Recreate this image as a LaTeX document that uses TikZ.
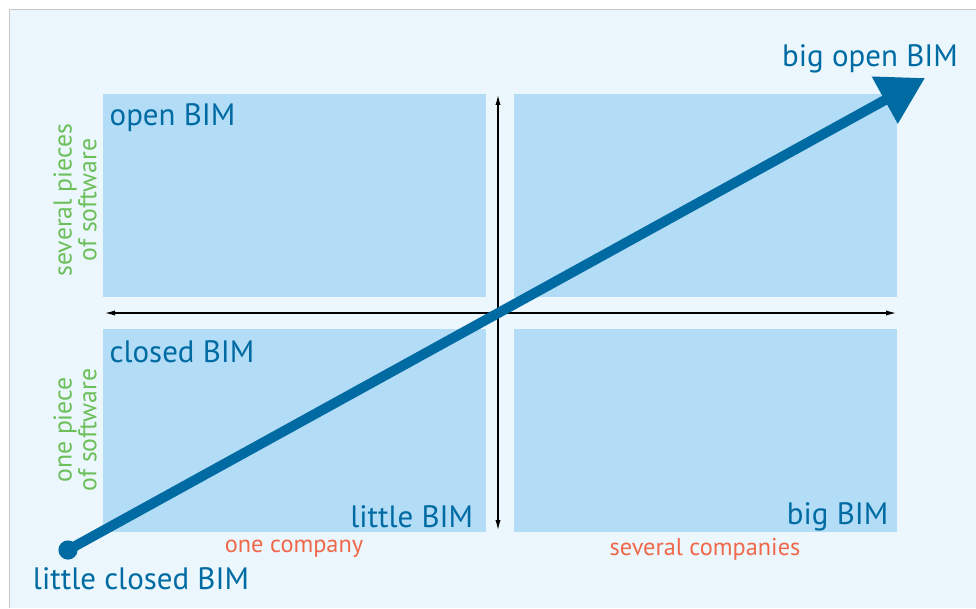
\documentclass[tikz,border=0pt]{standalone}
\usepackage{fontspec}
\setmainfont{PT Sans}
\usepackage{tikz}
\usetikzlibrary{arrows.meta}

\definecolor{bimblue}{HTML}{006BA3}
\definecolor{boxblue}{HTML}{B3DCF6}
\definecolor{bgblue}{HTML}{EBF6FD}
\definecolor{swgreen}{HTML}{6CBF5B}
\definecolor{coorange}{HTML}{F0684A}

\begin{document}
\begin{tikzpicture}[
  lbl/.style={inner sep=1pt, text=bimblue, font=\fontsize{22}{26}\selectfont},
  axlbl/.style={inner sep=1pt, text=coorange, font=\fontsize{17.3}{20}\selectfont},
  swlbl/.style={inner sep=1pt, text=swgreen, rotate=90, align=center,
                font=\fontsize{18.3}{16.3}\selectfont},
  quad/.style={fill=boxblue, draw=none},
  ax/.style={draw=black, line width=.8pt, {Latex[length=2.5mm,width=1.3mm]}-{Latex[length=2.5mm,width=1.3mm]}},
  growth/.style={draw=bimblue, line width=2.5mm, -{Triangle[length=11.5mm,width=12.8mm]}},
]
\useasboundingbox (0,0) rectangle (24.4,15.2);

% ---------------- background panel ----------------
\fill[bgblue] (0.225,0) rectangle (24.4,14.975);
\draw[black!22, line width=.6pt] (0.225,0) -- (0.225,14.975) -- (24.4,14.975);

% ---------------- four quadrants ----------------
\path[quad] (2.575,7.775) rectangle (12.15,12.85);   % upper left
\path[quad] (12.85,7.775) rectangle (22.425,12.85);  % upper right
\path[quad] (2.575,1.9)   rectangle (12.15,6.975);   % lower left
\path[quad] (12.85,1.9)   rectangle (22.425,6.975);  % lower right

% ---------------- axes ----------------
\coordinate (yb) at (12.45,1.95);
\coordinate (yt) at (12.45,12.825);
\coordinate (xl) at (2.625,7.375);
\coordinate (xr) at (22.4,7.375);
\draw[ax] (yb) -- (yt);
\draw[ax] (xl) -- (xr);

% ---------------- quadrant labels ----------------
\node[lbl, anchor=west] (openB)   at (2.7,12.25)  {open BIM};
\node[lbl, anchor=west] (closedB) at (2.7,6.4)    {closed BIM};
\node[lbl, anchor=east] (littleB) at (11.87,2.28) {little BIM};
\node[lbl, anchor=east] (bigB)    at (22.25,2.28) {big BIM};

% ---------------- axis captions ----------------
\node[axlbl] (oneCo) at (7.35,1.47)   {one company};
\node[axlbl] (sevCo) at (17.625,1.47) {several companies};
\node[swlbl] (sevSw) at (1.875,10.2)  {several pieces\\of software};
\node[swlbl] (oneSw) at (1.875,4.45)  {one piece\\of software};

% ---------------- growth arrow ----------------
\coordinate (start) at (1.7,1.45);
\coordinate (tip)   at (23.125,13.25);
\draw[growth] (start) -- (tip);
\fill[bimblue] (start) circle (0.24);

\node[lbl] (lcb) at (3.525,0.72) {little closed BIM};
\node[lbl] (bob) at (21.75,13.72) {big open BIM};

\end{tikzpicture}
\end{document}
